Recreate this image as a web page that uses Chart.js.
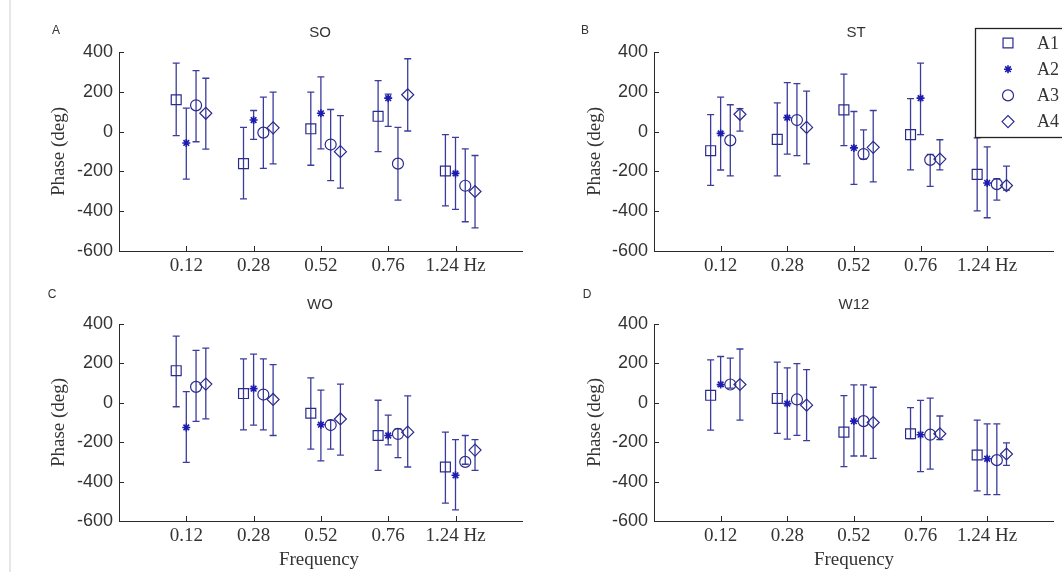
<!DOCTYPE html>
<html>
<head>
<meta charset="utf-8">
<script src="https://cdn.jsdelivr.net/npm/chart.js"></script>
<style>
  body { margin: 0; background: #fff; }
  #wrap { position: relative; width: 1062px; height: 572px; overflow: hidden; background: #fff; }
  #edge { position: absolute; left: 9px; top: 0; width: 2px; height: 572px; background: #e6e6e6; }
  canvas { position: absolute; }
</style>
</head>
<body>
<div id="wrap">
  <div id="edge"></div>
  <canvas id="panel-a" width="531" height="286" style="left:0;top:0"></canvas>
  <canvas id="panel-b" width="531" height="286" style="left:531px;top:0"></canvas>
  <canvas id="panel-c" width="531" height="286" style="left:0;top:286px"></canvas>
  <canvas id="panel-d" width="531" height="286" style="left:531px;top:286px"></canvas>
</div>
<script>
// x axis categories
const freqLabels = ['0.12', '0.28', '0.52', '0.76', '1.24 Hz'];
const freqPos = [1, 2, 3, 4, 5];
const seriesNames = ['A1', 'A2', 'A3', 'A4'];
const yTicks = [-600, -400, -200, 0, 200, 400];

// SO  (rows = A1..A4, columns = frequencies)
const soMean = [[160, -161, 14, 77, -198], [-57, 58, 92, 168, -210], [132, -5, -65, -161, -272], [92, 19, -101, 185, -301]];
const soLow  = [[-20, -338, -169, -101, -373], [-239, -39, -87, 26, -391], [-51, -185, -246, -344, -453], [-88, -162, -284, 3, -484]];
const soHigh = [[344, 21, 198, 256, -15], [118, 106, 275, 188, -29], [306, 173, 111, 21, -87], [268, 198, 80, 366, -120]];

// ST
const stMean = [[-96, -39, 109, -15, -215], [-9, 70, -82, 168, -258], [-44, 58, -113, -142, -264], [87, 21, -79, -138, -271]];
const stLow  = [[-270, -222, -70, -192, -398], [-193, -113, -265, -15, -433], [-222, -121, -138, -275, -344], [2, -162, -253, -192, -294]];
const stHigh = [[85, 144, 289, 166, -32], [173, 246, 101, 344, -77], [135, 241, 9, -114, -237], [115, 203, 106, -41, -173]];

// WO
const woMean = [[163, 47, -53, -166, -326], [-125, 72, -111, -166, -368], [81, 42, -113, -158, -300], [95, 17, -82, -149, -240]];
const woLow  = [[-20, -137, -235, -343, -509], [-302, -113, -295, -214, -544], [-94, -137, -235, -278, -312], [-82, -166, -266, -326, -343]];
const woHigh = [[338, 223, 127, 13, -149], [57, 247, 64, -63, -187], [266, 223, -89, -132, -166], [278, 194, 95, 35, -187]];

// W12
const w12Mean = [[38, 22, -149, -157, -265], [93, -4, -93, -162, -284], [93, 17, -93, -162, -291], [93, -12, -100, -157, -260]];
const w12Low  = [[-139, -155, -324, -182, -447], [85, -184, -270, -349, -466], [75, -165, -270, -337, -466], [-88, -192, -282, -187, -318]];
const w12High = [[218, 206, 36, -24, -88], [235, 177, 91, 12, -107], [227, 199, 91, 24, -107], [273, 168, 79, -67, -203]];

const lineColor = '#3c3c9c';
const markColor = '#2b2b8e';
const axisColor = '#2a2a2a';
const textColor = '#333';
const serif = '"Liberation Serif", "Times New Roman", serif';
const sans = '"Liberation Sans", Arial, sans-serif';

// small sideways shift so the four markers of a group don't overlap
const seriesShift = [-0.15, 0, 0.145, 0.29];
const seriesStyle = [
  { pointStyle: 'rect', radius: 7, borderWidth: 1.2, color: markColor },
  { pointStyle: 'star', radius: 4, borderWidth: 1.6, color: '#1c1cb0' },
  { pointStyle: 'circle', radius: 5.5, borderWidth: 1.2, color: markColor },
  { pointStyle: 'rectRot', radius: 6, borderWidth: 1.2, color: markColor }
];

const panelDecor = {
  id: 'panelDecor',
  beforeDatasetsDraw(chart) {
    // error bars
    const { ctx, scales: { x, y } } = chart;
    ctx.save();
    ctx.strokeStyle = lineColor;
    ctx.lineWidth = 1.3;
    chart.data.datasets.forEach(ds => {
      ds.data.forEach(p => {
        const px = x.getPixelForValue(p.x);
        const top = y.getPixelForValue(p.hi);
        const bot = y.getPixelForValue(p.lo);
        ctx.beginPath();
        ctx.moveTo(px, top); ctx.lineTo(px, bot);
        ctx.moveTo(px - 3.5, top); ctx.lineTo(px + 3.5, top);
        ctx.moveTo(px - 3.5, bot); ctx.lineTo(px + 3.5, bot);
        ctx.stroke();
      });
    });
    ctx.restore();
  },
  afterDraw(chart, args, opts) {
    const { ctx, chartArea: a, scales: { x, y } } = chart;
    ctx.save();
    // tick marks point into the plot
    ctx.strokeStyle = axisColor;
    ctx.lineWidth = 1;
    ctx.beginPath();
    y.ticks.forEach(t => {
      const py = Math.round(y.getPixelForValue(t.value)) + 0.5;
      ctx.moveTo(a.left, py); ctx.lineTo(a.left + 5, py);
    });
    x.ticks.forEach(t => {
      const px = Math.round(x.getPixelForValue(t.value)) + 0.5;
      ctx.moveTo(px, a.bottom); ctx.lineTo(px, a.bottom - 5);
    });
    ctx.stroke();

    ctx.fillStyle = textColor;
    ctx.textBaseline = 'middle';
    ctx.textAlign = 'center';
    ctx.font = '12px ' + sans;
    ctx.fillText(opts.letter, opts.letterX, opts.letterY);
    ctx.font = '15px ' + sans;
    ctx.fillText(opts.title, opts.titleX, opts.titleY);

    ctx.font = '19px ' + serif;
    ctx.save();
    ctx.translate(opts.yTitleX, (a.top + a.bottom) / 2);
    ctx.rotate(-Math.PI / 2);
    ctx.fillText('Phase (deg)', 0, 0);
    ctx.restore();
    if (opts.xTitle) ctx.fillText('Frequency', opts.xTitleX, opts.xTitleY);

    if (opts.legend) {
      ctx.fillStyle = '#fff';
      ctx.strokeStyle = '#222';
      ctx.lineWidth = 1.3;
      ctx.fillRect(444, 28, 120, 109);
      ctx.strokeRect(444.5, 28.5, 120, 109);
      ctx.font = '18px ' + serif;
      ctx.textAlign = 'left';
      chart.data.datasets.forEach((ds, i) => {
        const ly = 43 + i * 26.2;
        ctx.strokeStyle = ds.borderColor;
        ctx.fillStyle = ds.backgroundColor;
        ctx.lineWidth = ds.borderWidth;
        Chart.helpers.drawPoint(ctx, { pointStyle: ds.pointStyle, radius: ds.pointRadius, borderWidth: ds.borderWidth, rotation: 0 }, 477, ly);
        ctx.fillStyle = textColor;
        ctx.fillText(ds.label, 506, ly + 1);
      });
    }
    ctx.restore();
  }
};

function makePanel(id, mean, low, high, layout, decor) {
  const datasets = seriesNames.map((name, s) => ({
    label: name,
    data: freqPos.map((f, i) => ({ x: f + seriesShift[s], y: mean[s][i], lo: low[s][i], hi: high[s][i] })),
    pointStyle: seriesStyle[s].pointStyle,
    pointRadius: seriesStyle[s].radius,
    pointHoverRadius: seriesStyle[s].radius,
    borderWidth: seriesStyle[s].borderWidth,
    borderColor: seriesStyle[s].color,
    backgroundColor: 'rgba(0,0,0,0)',
    showLine: false
  }));
  const ctx = document.getElementById(id).getContext('2d');
  return new Chart(ctx, {
    type: 'scatter',
    data: { datasets },
    options: {
      responsive: false,
      animation: false,
      devicePixelRatio: 1,
      layout: { padding: { left: 0, top: layout.top, right: layout.right, bottom: 0 } },
      scales: {
        x: {
          type: 'linear', min: 0, max: 6,
          afterBuildTicks: sc => { sc.ticks = freqPos.map(v => ({ value: v })); },
          afterFit: sc => { sc.height = layout.xHeight; },
          grid: { display: false, drawTicks: false },
          border: { display: true, color: axisColor, width: 1 },
          ticks: {
            padding: 4, color: textColor, maxRotation: 0, autoSkip: false,
            font: { family: serif, size: 19 },
            callback: (v, i) => freqLabels[i]
          }
        },
        y: {
          min: -600, max: 400,
          afterBuildTicks: sc => { sc.ticks = yTicks.map(v => ({ value: v })); },
          afterFit: sc => { sc.width = layout.yWidth; },
          grid: { display: false, drawTicks: false },
          border: { display: true, color: axisColor, width: 1 },
          ticks: { padding: 6, color: textColor, font: { family: sans, size: 18 } }
        }
      },
      plugins: {
        legend: { display: false },
        tooltip: { enabled: false },
        panelDecor: decor
      }
    },
    plugins: [panelDecor]
  });
}

makePanel('panel-a', soMean, soLow, soHigh,
  { top: 52, right: 6, xHeight: 35, yWidth: 119 },
  { letter: 'A', letterX: 56, letterY: 31, title: 'SO', titleX: 320, titleY: 33, yTitleX: 59 });

makePanel('panel-b', stMean, stLow, stHigh,
  { top: 52, right: 1, xHeight: 35, yWidth: 123 },
  { letter: 'B', letterX: 54, letterY: 31, title: 'ST', titleX: 325, titleY: 33, yTitleX: 64, legend: true });

makePanel('panel-c', woMean, woLow, woHigh,
  { top: 38, right: 6, xHeight: 51, yWidth: 119 },
  { letter: 'C', letterX: 52, letterY: 9, title: 'WO', titleX: 320, titleY: 19, yTitleX: 59,
    xTitle: true, xTitleX: 319, xTitleY: 274 });

makePanel('panel-d', w12Mean, w12Low, w12High,
  { top: 38, right: 1, xHeight: 51, yWidth: 123 },
  { letter: 'D', letterX: 56, letterY: 9, title: 'W12', titleX: 323, titleY: 19, yTitleX: 64,
    xTitle: true, xTitleX: 323, xTitleY: 274 });
</script>
</body>
</html>
